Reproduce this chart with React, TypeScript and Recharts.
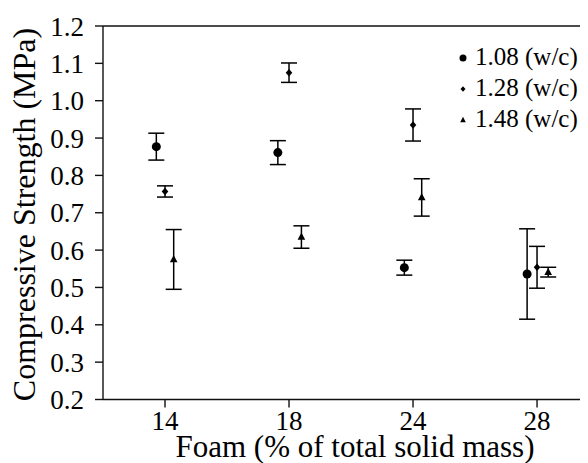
import React from 'react';
import { ScatterChart, Scatter, XAxis, YAxis, ErrorBar, ReferenceLine, Legend, Label } from 'recharts';

const foamLevels = ['14', '18', '24', '28'];
const foamTickPositions = [0, 1, 2, 3];
const strengthTicks = [0.2, 0.3, 0.4, 0.5, 0.6, 0.7, 0.8, 0.9, 1.0, 1.1, 1.2];

const seriesNames = ['1.08 (w/c)', '1.28 (w/c)', '1.48 (w/c)'];

const wc108X = [-0.07, 0.91, 1.93, 2.92];
const wc108Y = [0.877, 0.861, 0.553, 0.536];
const wc108Err = [0.036, 0.032, 0.02, 0.121];

const wc128X = [0, 1, 2, 3];
const wc128Y = [0.757, 1.075, 0.935, 0.554];
const wc128Err = [0.015, 0.026, 0.043, 0.056];

const wc148X = [0.07, 1.1, 2.07, 3.09];
const wc148Y = [0.575, 0.635, 0.741, 0.541];
const wc148Err = [0.08, 0.03, 0.05, 0.013];

const build = (xs: number[], ys: number[], es: number[]) =>
  xs.map((x, i) => ({ x, y: ys[i], err: es[i] }));

const data108 = build(wc108X, wc108Y, wc108Err);
const data128 = build(wc128X, wc128Y, wc128Err);
const data148 = build(wc148X, wc148Y, wc148Err);

const FONT = "'Liberation Serif', 'Times New Roman', serif";

const CircleMark = (p: any) => <circle cx={p.cx} cy={p.cy} r={4.5} fill="#000" />;
const DiamondMark = (p: any) => (
  <path d={`M${p.cx},${p.cy - 3.8}L${p.cx + 3.3},${p.cy}L${p.cx},${p.cy + 3.8}L${p.cx - 3.3},${p.cy}Z`} fill="#000" />
);
const TriangleMark = (p: any) => (
  <path d={`M${p.cx},${p.cy - 4.5}L${p.cx + 3.8},${p.cy + 2.8}L${p.cx - 3.8},${p.cy + 2.8}Z`} fill="#000" />
);

const legendIcons = [
  <circle cx={6} cy={6} r={3.5} fill="#000" />,
  <path d="M6,3.2L8.5,6L6,8.8L3.5,6Z" fill="#000" />,
  <path d="M6,2.8L8.8,8.2L3.2,8.2Z" fill="#000" />,
];

const LegendContent = (props: any) => {
  const payload = props.payload || [];
  return (
    <div style={{ fontFamily: FONT, fontSize: 25, lineHeight: '31px', color: '#000' }}>
      {payload.map((entry: any, i: number) => (
        <div key={i} style={{ display: 'flex', alignItems: 'center', whiteSpace: 'nowrap', height: 31 }}>
          <svg width={12} height={12} style={{ display: 'block', marginRight: 6, marginTop: 3, flex: 'none' }}>
            {legendIcons[i]}
          </svg>
          <span>{entry.value}</span>
        </div>
      ))}
    </div>
  );
};

const XTitle = () => (
  <text x={355} y={449} textAnchor="middle" fontFamily={FONT} style={{ fontFamily: FONT }} fontSize={31} fill="#000">
    Foam (% of total solid mass)
  </text>
);

const YTitle = () => (
  <text
    x={34.5}
    y={206.5}
    transform="rotate(-90 34.5 206.5)"
    textAnchor="middle"
    fontFamily={FONT}
    style={{ fontFamily: FONT }}
    fontSize={32}
    fill="#000"
  >
    Compressive Strength (MPa)
  </text>
);

const tickStyle = { fontFamily: FONT, fontSize: 27, fill: '#000', style: { fontFamily: FONT } };

export default function App() {
  return (
    <div style={{ marginLeft: -8, width: 588 }}>
      <ScatterChart width={588} height={455} margin={{ top: 18, right: 0, bottom: 33.5, left: 43 }}>
        <XAxis
          type="number"
          dataKey="x"
          domain={[-0.5, 3.411]}
          allowDataOverflow
          ticks={foamTickPositions}
          tickFormatter={(v: number) => foamLevels[v] ?? ''}
          tick={tickStyle}
          tickSize={8}
          tickMargin={3}
          stroke="#111"
          strokeWidth={1.4}
          height={30}
        >
          <Label content={XTitle} />
        </XAxis>
        <YAxis
          type="number"
          dataKey="y"
          domain={[0.2, 1.2]}
          allowDataOverflow
          ticks={strengthTicks}
          interval={0}
          tickFormatter={(v: number) => v.toFixed(1)}
          tick={tickStyle}
          tickSize={8}
          tickMargin={11}
          stroke="#111"
          strokeWidth={1.4}
          width={60}
        >
          <Label content={YTitle} />
        </YAxis>
        <ReferenceLine y={1.2} stroke="#111" strokeWidth={1.4} />
        <Legend
          layout="horizontal"
          verticalAlign="middle"
          align="center"
          content={LegendContent}
          wrapperStyle={{ position: 'absolute', top: 33, left: 457, width: 131 }}
        />
        <Scatter name={seriesNames[0]} data={data108} shape={CircleMark} isAnimationActive={false}>
          <ErrorBar dataKey="err" direction="y" width={8} stroke="#000" strokeWidth={1.5} />
        </Scatter>
        <Scatter name={seriesNames[1]} data={data128} shape={DiamondMark} isAnimationActive={false}>
          <ErrorBar dataKey="err" direction="y" width={8} stroke="#000" strokeWidth={1.5} />
        </Scatter>
        <Scatter name={seriesNames[2]} data={data148} shape={TriangleMark} isAnimationActive={false}>
          <ErrorBar dataKey="err" direction="y" width={8} stroke="#000" strokeWidth={1.5} />
        </Scatter>
      </ScatterChart>
    </div>
  );
}
